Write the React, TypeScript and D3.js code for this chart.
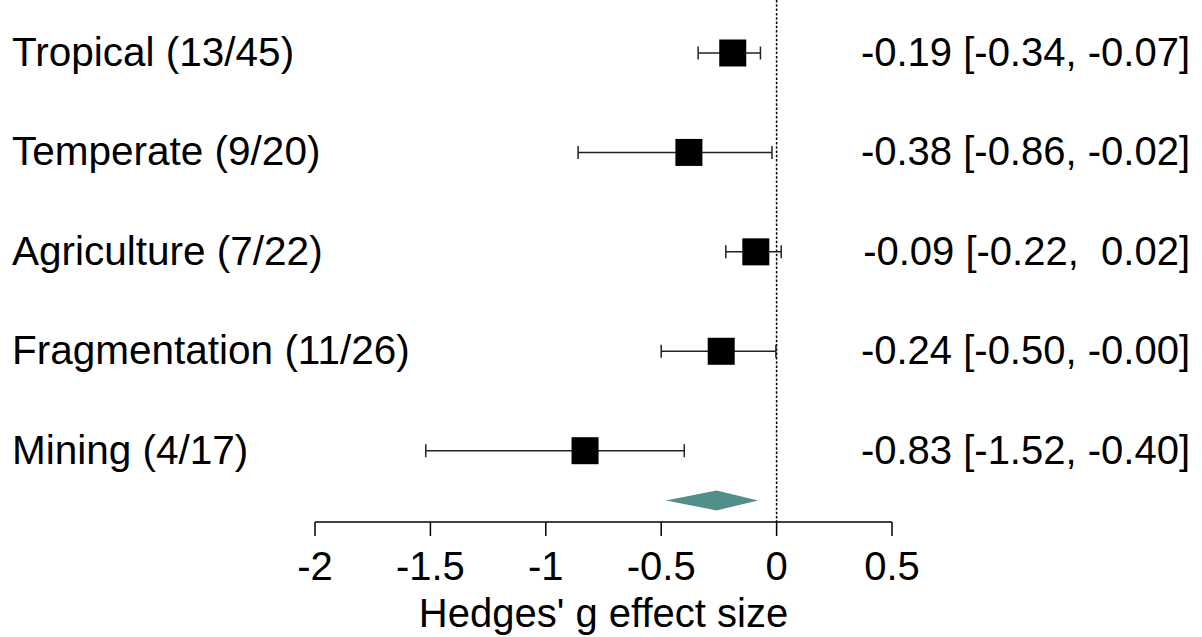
import React from "react";
import * as d3 from "d3";

// Subgroup effect sizes (Hedges' g) with 95% confidence intervals
const labels = [
  "Tropical (13/45)",
  "Temperate (9/20)",
  "Agriculture (7/22)",
  "Fragmentation (11/26)",
  "Mining (4/17)",
];
const estimates = [-0.19, -0.38, -0.09, -0.24, -0.83];
const lowerCI = [-0.34, -0.86, -0.22, -0.5, -1.52];
const upperCI = [-0.07, -0.02, 0.02, -0.003, -0.4];

// Pooled summary estimate
const pooled = { est: -0.26, lo: -0.48, hi: -0.08 };

const xTicks = [-2, -1.5, -1, -0.5, 0, 0.5];
const axisTitle = "Hedges' g effect size";

const W = 1202;
const H = 637;
const FONT = "'Liberation Sans', Arial, sans-serif";
const FS = 40;

const fmt = (v: number) => {
  const s = v.toFixed(2);
  return s.length < 5 ? " ".repeat(5 - s.length) + s : s;
};

export default function App() {
  const x = d3.scaleLinear().domain([-2, 0.5]).range([315, 892]);
  const y = d3.scaleLinear().domain([0, 4]).range([53, 450.7]);
  const axisY = 522;
  const box = 27;
  const cap = 6.5;
  const yd = y(4.5);
  const dh = 10;

  const diamond = [
    [x(pooled.lo), yd],
    [x(pooled.est), yd - dh],
    [x(pooled.hi), yd],
    [x(pooled.est), yd + dh],
  ]
    .map((p) => p.join(","))
    .join(" ");

  return (
    <svg
      width={W}
      height={H}
      style={{ position: "absolute", left: 0, top: 0, background: "#fff" }}
      fontFamily={FONT}
    >
      {/* zero reference line */}
      <line
        x1={x(0)}
        x2={x(0)}
        y1={0}
        y2={axisY}
        stroke="#000"
        strokeWidth={1.5}
        strokeDasharray="2.5,1.8"
      />

      {labels.map((lab, i) => {
        const cy = y(i);
        return (
          <g key={lab}>
            <text x={12} y={cy + 13} fontSize={FS + 0.5} fill="#000">
              {lab}
            </text>
            <line x1={x(lowerCI[i])} x2={x(upperCI[i])} y1={cy} y2={cy} stroke="#222" strokeWidth={1.5} />
            <line x1={x(lowerCI[i])} x2={x(lowerCI[i])} y1={cy - cap} y2={cy + cap} stroke="#222" strokeWidth={1.5} />
            <line x1={x(upperCI[i])} x2={x(upperCI[i])} y1={cy - cap} y2={cy + cap} stroke="#222" strokeWidth={1.5} />
            <rect x={x(estimates[i]) - box / 2} y={cy - box / 2} width={box} height={box} fill="#000" />
            <text
              x={1190}
              y={cy + 13}
              fontSize={FS}
              textAnchor="end"
              fill="#000"
              style={{ whiteSpace: "pre" }}
            >
              {`${estimates[i].toFixed(2)} [${fmt(lowerCI[i])}, ${fmt(upperCI[i])}]`}
            </text>
          </g>
        );
      })}

      {/* pooled summary */}
      <polygon points={diamond} fill="#528f8b" />

      {/* x axis */}
      <line x1={x(-2)} x2={x(0.5)} y1={axisY} y2={axisY} stroke="#000" strokeWidth={1.5} />
      {xTicks.map((t) => (
        <g key={t}>
          <line x1={x(t)} x2={x(t)} y1={axisY} y2={axisY + 14} stroke="#000" strokeWidth={1.5} />
          <text x={x(t)} y={580} fontSize={FS} textAnchor="middle" fill="#000">
            {String(t)}
          </text>
        </g>
      ))}
      <text x={x(-0.75)} y={627} fontSize={FS} textAnchor="middle" fill="#000">
        {axisTitle}
      </text>
    </svg>
  );
}
